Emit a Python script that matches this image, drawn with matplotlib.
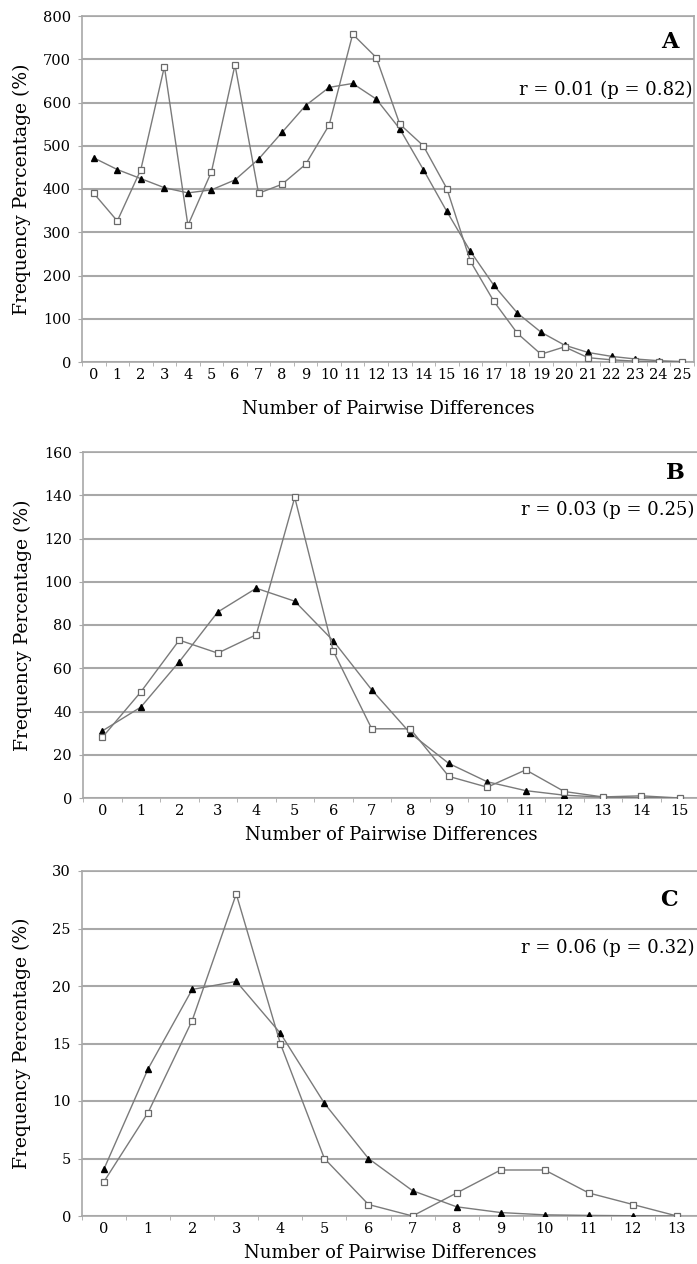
import matplotlib
matplotlib.use("Agg")
from matplotlib import pyplot as plt
from matplotlib.ticker import MultipleLocator, FixedLocator

plt.rcParams["font.family"] = ["DejaVu Serif"]

# panel A
a_x = list(range(26))
a_obs = [390, 326, 445, 683, 316, 440, 687, 390, 411, 457, 548, 758, 704,
         550, 500, 401, 233, 140, 66, 18, 35, 10, 5, 2, 1, 0]
a_exp = [472, 445, 424, 403, 391, 398, 421, 469, 531, 593, 635, 644, 608,
         539, 445, 348, 256, 177, 113, 69, 39, 22, 13, 7, 3, 1]

# panel B
b_x = list(range(16))
b_obs = [28, 49, 73, 67, 75.5, 139, 68, 32, 32, 10, 5, 13, 3, 0.5, 1, 0]
b_exp = [31, 42, 63, 86, 97, 91, 72.7, 50, 30, 16, 7.5, 3.4, 1.3, 0.4, 0.2, 0.1]

# panel C
c_x = list(range(14))
c_obs = [3, 9, 17, 28, 15, 5, 1, 0, 2, 4, 4, 2, 1, 0]
c_exp = [4.1, 12.8, 19.7, 20.4, 15.9, 9.8, 5.0, 2.2, 0.8, 0.3, 0.1, 0.05, 0.02, 0]

W, H = 697, 1264
fig = plt.figure(figsize=(W / 100, H / 100), dpi=100)


def make_axes(left, right, top, bottom):
    return fig.add_axes([left / W, 1 - bottom / H, (right - left) / W, (bottom - top) / H])


panels = [
    (make_axes(82, 694, 16, 362), a_x, a_obs, a_exp, 800, 100, "A", "r = 0.01 (p = 0.82)",
     (0.974, 0.925), (0.997, 0.786), -0.11),
    (make_axes(83, 699, 452, 798), b_x, b_obs, b_exp, 160, 20, "B", "r = 0.03 (p = 0.25)",
     (0.977, 0.939), (0.992, 0.832), -0.082),
    (make_axes(82, 699, 871, 1216), c_x, c_obs, c_exp, 30, 5, "C", "r = 0.06 (p = 0.32)",
     (0.966, 0.916), (0.992, 0.777), -0.082),
]

line_col = "#7a7a7a"
grid_col = "#a8a8a8"

for ax, xs, obs, exp, ymax, ystep, letter, rtext, lpos, rpos, xlab_y in panels:
    ax.plot(xs, exp, color=line_col, lw=1.0, marker="^", ms=4.5,
            mfc="black", mec="black", zorder=3)
    ax.plot(xs, obs, color=line_col, lw=1.0, marker="s", ms=4,
            mfc="white", mec="#6a6a6a", mew=0.9, zorder=4)

    ax.set_xlim(-0.5, len(xs) - 0.5)
    ax.set_ylim(0, ymax)
    ax.yaxis.set_major_locator(MultipleLocator(ystep))
    ax.set_xticks(xs)
    ax.xaxis.set_minor_locator(FixedLocator([i - 0.5 for i in range(len(xs) + 1)]))
    ax.tick_params(axis="x", which="major", length=0, pad=4, labelsize=10.5)
    ax.tick_params(axis="x", which="minor", length=3, color=grid_col, direction="out")
    ax.tick_params(axis="y", length=3, color=grid_col, pad=5, labelsize=10.5)

    ax.grid(axis="y", color=grid_col, lw=1.5)
    ax.set_axisbelow(True)
    for side in ["left", "bottom", "right", "top"]:
        ax.spines[side].set_color(grid_col)
        ax.spines[side].set_linewidth(1.2)

    ax.set_xlabel("Number of Pairwise Differences", fontsize=13)
    ax.xaxis.set_label_coords(0.5, xlab_y)
    ax.set_ylabel("Frequency Percentage (%)", fontsize=13.5)
    ax.yaxis.set_label_coords(-0.083, 0.5)

    ax.text(lpos[0], lpos[1], letter, transform=ax.transAxes, ha="right", va="center",
            fontsize=16, fontweight="bold")
    ax.text(rpos[0], rpos[1], rtext, transform=ax.transAxes, ha="right", va="center",
            fontsize=13)

fig.savefig("out.png", dpi=100)
